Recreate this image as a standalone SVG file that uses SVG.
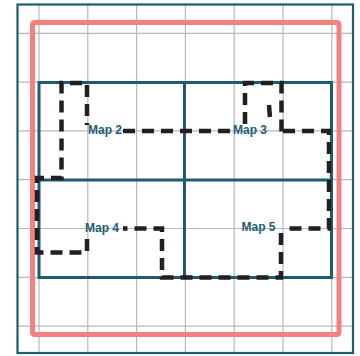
<svg xmlns="http://www.w3.org/2000/svg" width="360" height="356" viewBox="0 0 360 356">
<style>
.grid{stroke:#b8b8b8;stroke-width:1.2;fill:none}
.frame{stroke:#1d5b70;stroke-width:2.2;fill:none}
.pink{stroke:#f58080;stroke-width:5;fill:none}
.map{stroke:#1d5b70;stroke-width:3;fill:none}
.dash{stroke:#231f20;stroke-width:4.5;fill:none;stroke-dasharray:12 7}
.lbl{font-family:"Liberation Sans",Arial,sans-serif;font-weight:bold;font-size:12px;fill:#1f5d74}
</style>
<rect width="360" height="356" fill="#ffffff"/>
<g id="grid" class="grid">
<path d="M39,5V352M87.8,5V352M136.6,5V352M185.4,5V352M234.2,5V352M283,5V352M331.8,5V352"/>
<path d="M18,33.3H353M18,82.1H353M18,130.9H353M18,179.7H353M18,228.5H353M18,277.3H353M18,326.1H353"/>
</g>
<rect id="frame" class="frame" x="17.5" y="4.5" width="335.5" height="348.5"/>
<rect id="boundary" class="pink" x="32.5" y="22.5" width="306.5" height="312" rx="2"/>
<g id="maps" class="map">
<rect x="39" y="82.5" width="292.5" height="195"/>
<path d="M184.5,82.5V277.5M39,180H331.5"/>
</g>
<g id="connectors" class="dash">
<path d="M123,131H231"/>
<path d="M283,131H329V228.5H285"/>
<path d="M281,233V277.5H162V228.5H123"/>
<path d="M87,239V252.5H37V178H61.5V83H87V125"/>
<path d="M245,124V83H281.5V134"/>
<path d="M269,105L270,118"/>
</g>
<g id="map2"><text class="lbl" x="88" y="133.5">Map 2</text></g>
<g id="map3"><text class="lbl" x="233" y="133.5">Map 3</text></g>
<g id="map4"><text class="lbl" x="85" y="231.5">Map 4</text></g>
<g id="map5"><text class="lbl" x="241.5" y="230.5">Map 5</text></g>
</svg>
